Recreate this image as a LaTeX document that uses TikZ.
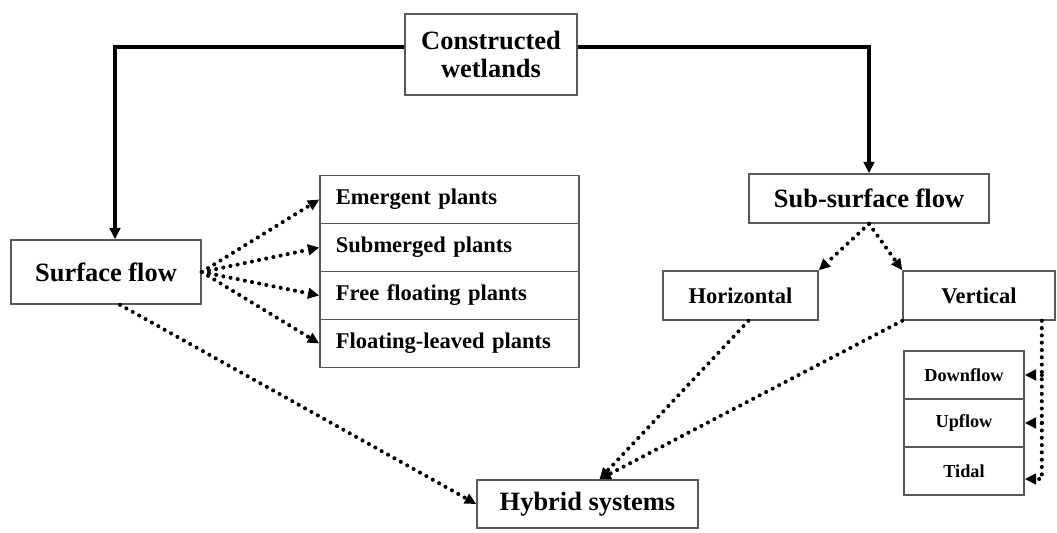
\documentclass[tikz,border=0pt]{standalone}
\usepackage{fontspec}
\setmainfont{Liberation Serif}
\usetikzlibrary{arrows.meta}

\begin{document}
\begin{tikzpicture}[x=0.025cm,y=-0.025cm]
\tikzset{box/.style={draw=black!65, line width=1.1pt, inner sep=0pt, align=center,
                     font=\bfseries\fontsize{18.8}{20}\selectfont},
         plant/.style={box, font=\bfseries\fontsize{16}{18}\selectfont, minimum height=1.2cm,
                       text width=5.675cm, inner xsep=0.4cm, align=left},
         kind/.style={box, font=\bfseries\fontsize{16}{18}\selectfont, minimum height=1.225cm},
         sub/.style={box, font=\bfseries\fontsize{13}{15}\selectfont, minimum width=3cm, minimum height=1.2cm},
         solidarrow/.style={line width=2.6pt, -{Triangle[length=8pt,width=7.5pt]}},
         dotarrow/.style={line width=2.9pt, line cap=round, dash pattern=on 0pt off 5.2pt,
                          -{Triangle[length=8pt,width=7.5pt]}}}
\useasboundingbox (0,0) rectangle (1057,532);

\node[box, minimum width=4.3cm, minimum height=2.025cm] (cw) at (491,54.5) {Constructed\\wetlands};
\node[box, minimum width=4.75cm, minimum height=1.6cm] (sf) at (106,272) {Surface flow};
\node[plant] (emergent) at (449.5,199.5) {Emergent plants};
\node[plant] (submerged) at (449.5,247.5) {Submerged plants};
\node[plant] (free) at (449.5,295.5) {Free floating plants};
\node[plant] (leaved) at (449.5,343.5) {Floating-leaved plants};
\node[box, minimum width=6cm, minimum height=1.225cm] (ssf) at (869,198.5) {Sub-surface flow};
\node[kind, minimum width=3.875cm] (hz) at (740.5,295.5) {Horizontal};
\node[kind, minimum width=3.8cm] (vt) at (979,295.5) {Vertical};
\node[sub] (down) at (964,375) {Downflow};
\node[sub] (up) at (964,423) {Upflow};
\node[sub] (tidal) at (964,471) {Tidal};
\node[box, minimum width=5.525cm, minimum height=1.2cm] (hs) at (587.5,504) {Hybrid systems};
\coordinate (vx) at ([xshift=-0.35cm]vt.south east);

\draw[solidarrow] ([yshift=0.19cm]cw.west) -| ([xshift=0.225cm]sf.north);
\draw[solidarrow] ([yshift=0.19cm]cw.east) -| (ssf.north);
\path (sf.east) edge[dotarrow] (emergent.west) edge[dotarrow] (submerged.west)
                edge[dotarrow] (free.west) edge[dotarrow] (leaved.west);
\draw[dotarrow] ([xshift=0.35cm]sf.south) -- (hs.west);
\path (ssf.south) edge[dotarrow] (hz.north east) edge[dotarrow] (vt.north west);
\draw[dotarrow] ([xshift=0.2cm]hz.south) -- ([xshift=0.3cm]hs.north);
\draw[dotarrow] (vt.south west) -- ([xshift=0.3cm]hs.north);
\draw[dotarrow] (vx) |- ([yshift=-0.2cm]tidal.east);
\draw[dotarrow] (vx |- down.east) -- (down.east);
\draw[dotarrow] (vx |- up.east) -- (up.east);
\end{tikzpicture}
\end{document}
